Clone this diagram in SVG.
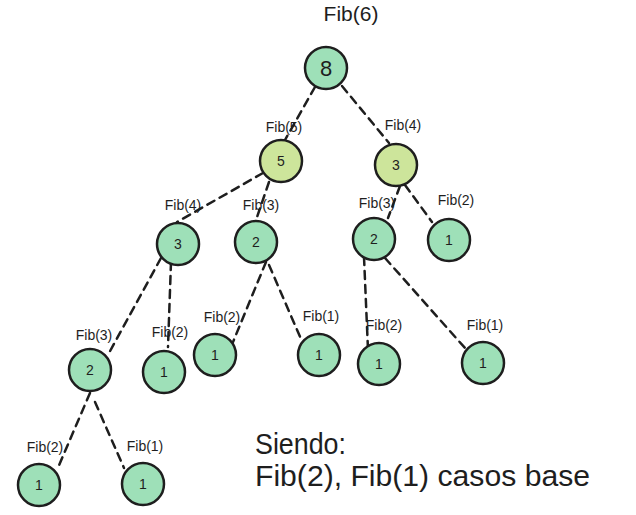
<svg xmlns="http://www.w3.org/2000/svg" width="636" height="515" viewBox="0 0 636 515">
<style>
.n{stroke:#1e1e1e;stroke-width:2.5}
.g{fill:#9ee0b8}
.y{fill:#cde59b}
.e{stroke:#1e1e1e;stroke-width:2.5;stroke-dasharray:8 6;fill:none;stroke-linecap:round}
text{font-family:"Liberation Sans",Arial,sans-serif;fill:#1e1e1e;text-anchor:middle;dominant-baseline:central}
.d{font-size:14px}
.l{font-size:14px}
.big{font-size:30px;text-anchor:start;dominant-baseline:auto}
</style>
<rect width="636" height="515" fill="#ffffff"/>
<g id="connectors">
<line class="e" x1="315" y1="87" x2="285" y2="140"/>
<line class="e" x1="342" y1="86" x2="389" y2="143"/>
<line class="e" x1="263" y1="173" x2="177" y2="222"/>
<line class="e" x1="269" y1="182" x2="256" y2="220"/>
<line class="e" x1="400" y1="186" x2="388" y2="218"/>
<line class="e" x1="405" y1="185" x2="432" y2="222"/>
<line class="e" x1="161" y1="258" x2="109" y2="353"/>
<line class="e" x1="171" y1="262" x2="168" y2="347"/>
<line class="e" x1="266" y1="262" x2="233" y2="342"/>
<line class="e" x1="269" y1="265" x2="301" y2="339"/>
<line class="e" x1="364" y1="257" x2="368" y2="350"/>
<line class="e" x1="385" y1="258" x2="465" y2="348"/>
<line class="e" x1="90" y1="393" x2="57" y2="470"/>
<line class="e" x1="95" y1="402" x2="124" y2="468"/>
</g>
<g id="edge-labels">
<text class="l" x="284" y="127">Fib(5)</text>
<text class="l" x="403" y="125">Fib(4)</text>
<text class="l" x="183" y="205">Fib(4)</text>
<text class="l" x="261" y="205">Fib(3)</text>
<text class="l" x="377" y="203">Fib(3)</text>
<text class="l" x="456" y="200">Fib(2)</text>
<text class="l" x="94" y="335">Fib(3)</text>
<text class="l" x="170" y="332">Fib(2)</text>
<text class="l" x="222" y="317">Fib(2)</text>
<text class="l" x="321" y="316">Fib(1)</text>
<text class="l" x="384" y="325">Fib(2)</text>
<text class="l" x="485" y="325">Fib(1)</text>
<text class="l" x="45" y="447">Fib(2)</text>
<text class="l" x="145" y="446">Fib(1)</text>
</g>
<text id="title" x="351" y="13" style="font-size:21px">Fib(6)</text>
<g id="fib6"><circle class="n g" cx="326" cy="68" r="21"/><text x="326" y="68" style="font-size:22px">8</text></g>
<g id="fib5"><circle class="n y" cx="281" cy="161" r="21"/><text class="d" x="281" y="161">5</text></g>
<g id="fib4r"><circle class="n y" cx="396" cy="165" r="21"/><text class="d" x="396" y="165">3</text></g>
<g id="fib4l"><circle class="n g" cx="178" cy="244" r="21"/><text class="d" x="178" y="244">3</text></g>
<g id="fib3m"><circle class="n g" cx="256" cy="242" r="21"/><text class="d" x="256" y="242">2</text></g>
<g id="fib3r"><circle class="n g" cx="374" cy="239" r="21"/><text class="d" x="374" y="239">2</text></g>
<g id="fib2r"><circle class="n g" cx="449" cy="240" r="21"/><text class="d" x="449" y="240">1</text></g>
<g id="fib3l"><circle class="n g" cx="90" cy="370" r="21"/><text class="d" x="90" y="370">2</text></g>
<g id="fib2a"><circle class="n g" cx="164" cy="372" r="21"/><text class="d" x="164" y="372">1</text></g>
<g id="fib2b"><circle class="n g" cx="215" cy="355" r="21"/><text class="d" x="215" y="355">1</text></g>
<g id="fib1a"><circle class="n g" cx="319" cy="355" r="21"/><text class="d" x="319" y="355">1</text></g>
<g id="fib2c"><circle class="n g" cx="379" cy="364" r="21"/><text class="d" x="379" y="364">1</text></g>
<g id="fib1b"><circle class="n g" cx="483" cy="363" r="21"/><text class="d" x="483" y="363">1</text></g>
<g id="fib2d"><circle class="n g" cx="39" cy="485" r="21"/><text class="d" x="39" y="485">1</text></g>
<g id="fib1c"><circle class="n g" cx="143" cy="484" r="21"/><text class="d" x="143" y="484">1</text></g>
<g id="note">
<text class="big" x="255" y="454" textLength="91" lengthAdjust="spacingAndGlyphs">Siendo:</text>
<text class="big" x="255" y="486" textLength="335" lengthAdjust="spacingAndGlyphs">Fib(2), Fib(1) casos base</text>
</g>
</svg>
